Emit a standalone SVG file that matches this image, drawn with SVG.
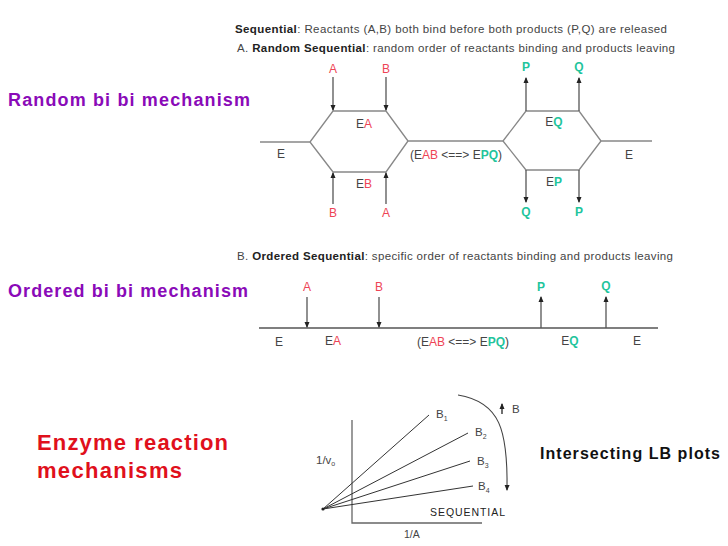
<svg xmlns="http://www.w3.org/2000/svg" width="728" height="546" viewBox="0 0 728 546">
<defs>
<style>
text{font-family:"Liberation Sans",Arial,sans-serif;}
.t{font-size:11.5px;fill:#444;}
.b{font-weight:bold;fill:#222;}
.lbl{font-size:12px;fill:#444;}
.r{fill:#EE4455;}
.g{fill:#22C49C;font-weight:bold;}
.hex{fill:none;stroke:#888;stroke-width:1.3;}
.ln{stroke:#555;stroke-width:1.3;fill:none;}
.side{font-size:18px;font-weight:bold;fill:#8A0AB8;}
</style>
<marker id="ah" markerWidth="6" markerHeight="6" refX="5" refY="3" orient="auto" markerUnits="userSpaceOnUse">
<path d="M0,0.5 L6,3 L0,5.5 z" fill="#222"/>
</marker>
</defs>
<rect width="728" height="546" fill="#fff"/>

<g id="headings">
<text class="t" x="235" y="33" textLength="432" lengthAdjust="spacing"><tspan class="b">Sequential</tspan>:  Reactants (A,B)  both bind before both products (P,Q) are released</text>
<text class="t" x="237" y="52" textLength="438" lengthAdjust="spacing">A.  <tspan class="b">Random Sequential</tspan>:  random order of reactants binding and products leaving</text>
<text class="t" x="237" y="260" textLength="436" lengthAdjust="spacing">B.  <tspan class="b">Ordered Sequential</tspan>:  specific order of reactants binding and products leaving</text>
</g>

<g id="side-labels">
<text class="side" x="8" y="106" textLength="242" lengthAdjust="spacing">Random bi bi mechanism</text>
<text class="side" x="8" y="297" textLength="240" lengthAdjust="spacing">Ordered bi bi mechanism</text>
<text x="37" y="450" font-size="22" font-weight="bold" fill="#E0101C" textLength="191" lengthAdjust="spacing">Enzyme reaction</text>
<text x="37" y="478" font-size="22" font-weight="bold" fill="#E0101C" textLength="145" lengthAdjust="spacing">mechanisms</text>
<text x="540" y="459" font-size="16" font-weight="bold" fill="#111" textLength="180" lengthAdjust="spacing">Intersecting LB plots</text>
</g>

<g id="random">
<g id="hex1">
<polyline class="hex" points="260,142 310,142 333,111 386,111 408,141 503,141 526,111 579,111 601,141 652,141"/>
<polyline class="hex" points="310,142 333,172 386,172 408,141"/>
<polyline class="hex" points="503,141 526,170 579,170 601,141"/>
</g>
<g id="random-connectors">
<line class="ln" x1="333" y1="77" x2="333" y2="110" marker-end="url(#ah)"/>
<line class="ln" x1="386" y1="77" x2="386" y2="110" marker-end="url(#ah)"/>
<line class="ln" x1="333" y1="204" x2="333" y2="173" marker-end="url(#ah)"/>
<line class="ln" x1="386" y1="204" x2="386" y2="173" marker-end="url(#ah)"/>
<line class="ln" x1="526" y1="111" x2="526" y2="78" marker-end="url(#ah)"/>
<line class="ln" x1="579" y1="111" x2="579" y2="78" marker-end="url(#ah)"/>
<line class="ln" x1="526" y1="170" x2="526" y2="202" marker-end="url(#ah)"/>
<line class="ln" x1="579" y1="170" x2="579" y2="202" marker-end="url(#ah)"/>
</g>
<g id="random-labels" text-anchor="middle">
<text class="lbl r" x="333" y="73">A</text>
<text class="lbl r" x="386" y="73">B</text>
<text class="lbl r" x="333" y="217">B</text>
<text class="lbl r" x="386" y="217">A</text>
<text class="lbl g" x="526" y="71">P</text>
<text class="lbl g" x="579" y="71">Q</text>
<text class="lbl g" x="526" y="216">Q</text>
<text class="lbl g" x="579" y="216">P</text>
<text class="lbl" x="281" y="158">E</text>
<text class="lbl" x="364" y="128">E<tspan class="r">A</tspan></text>
<text class="lbl" x="364" y="188">E<tspan class="r">B</tspan></text>
<text class="lbl" x="456" y="159">(E<tspan class="r">AB</tspan> &lt;==&gt; E<tspan class="g">PQ</tspan>)</text>
<text class="lbl" x="554" y="126">E<tspan class="g">Q</tspan></text>
<text class="lbl" x="554" y="186">E<tspan class="g">P</tspan></text>
<text class="lbl" x="629" y="159">E</text>
</g>
</g>

<g id="ordered">
<line class="ln" x1="259" y1="328" x2="658" y2="328" stroke="#666"/>
<g id="ordered-connectors">
<line class="ln" x1="307" y1="297" x2="307" y2="327" marker-end="url(#ah)"/>
<line class="ln" x1="379" y1="297" x2="379" y2="327" marker-end="url(#ah)"/>
<line class="ln" x1="541" y1="328" x2="541" y2="297" marker-end="url(#ah)"/>
<line class="ln" x1="606" y1="328" x2="606" y2="297" marker-end="url(#ah)"/>
</g>
<g id="ordered-labels" text-anchor="middle">
<text class="lbl r" x="307" y="291">A</text>
<text class="lbl r" x="379" y="291">B</text>
<text class="lbl g" x="541" y="291">P</text>
<text class="lbl g" x="606" y="290">Q</text>
<text class="lbl" x="279" y="346">E</text>
<text class="lbl" x="333" y="345">E<tspan class="r">A</tspan></text>
<text class="lbl" x="463" y="346">(E<tspan class="r">AB</tspan> &lt;==&gt; E<tspan class="g">PQ</tspan>)</text>
<text class="lbl" x="570" y="345">E<tspan class="g">Q</tspan></text>
<text class="lbl" x="637" y="345">E</text>
</g>
</g>

<g id="lb-plot">
<polyline points="352,420 352,523 482,523" fill="none" stroke="#666" stroke-width="1.3"/>
<g stroke="#333" stroke-width="1">
<line x1="323" y1="509" x2="429" y2="415"/>
<line x1="323" y1="509" x2="468" y2="433"/>
<line x1="323" y1="509" x2="470" y2="461"/>
<line x1="323" y1="509" x2="473" y2="486"/>
</g>
<circle cx="323" cy="509" r="1.6" fill="#222"/>
<g font-size="11.5" fill="#444">
<text x="436" y="418">B<tspan font-size="7" dy="3">1</tspan></text>
<text x="475" y="436">B<tspan font-size="7" dy="3">2</tspan></text>
<text x="477" y="465">B<tspan font-size="7" dy="3">3</tspan></text>
<text x="478" y="490">B<tspan font-size="7" dy="3">4</tspan></text>
<text x="316" y="464">1/v<tspan font-size="7" dy="2">o</tspan></text>
<text x="430" y="516" font-size="10.5" fill="#222" textLength="75" lengthAdjust="spacing">SEQUENTIAL</text>
<text x="404" y="538" font-size="10.5">1/A</text>
<text x="512" y="413">B</text>
</g>
<path d="M458,395 C500,402 508,430 507,490" fill="none" stroke="#444" stroke-width="1.1" marker-end="url(#ah)"/>
<line x1="502" y1="414" x2="502" y2="404" stroke="#222" stroke-width="1.3" marker-end="url(#ah)"/>
</g>
</svg>
